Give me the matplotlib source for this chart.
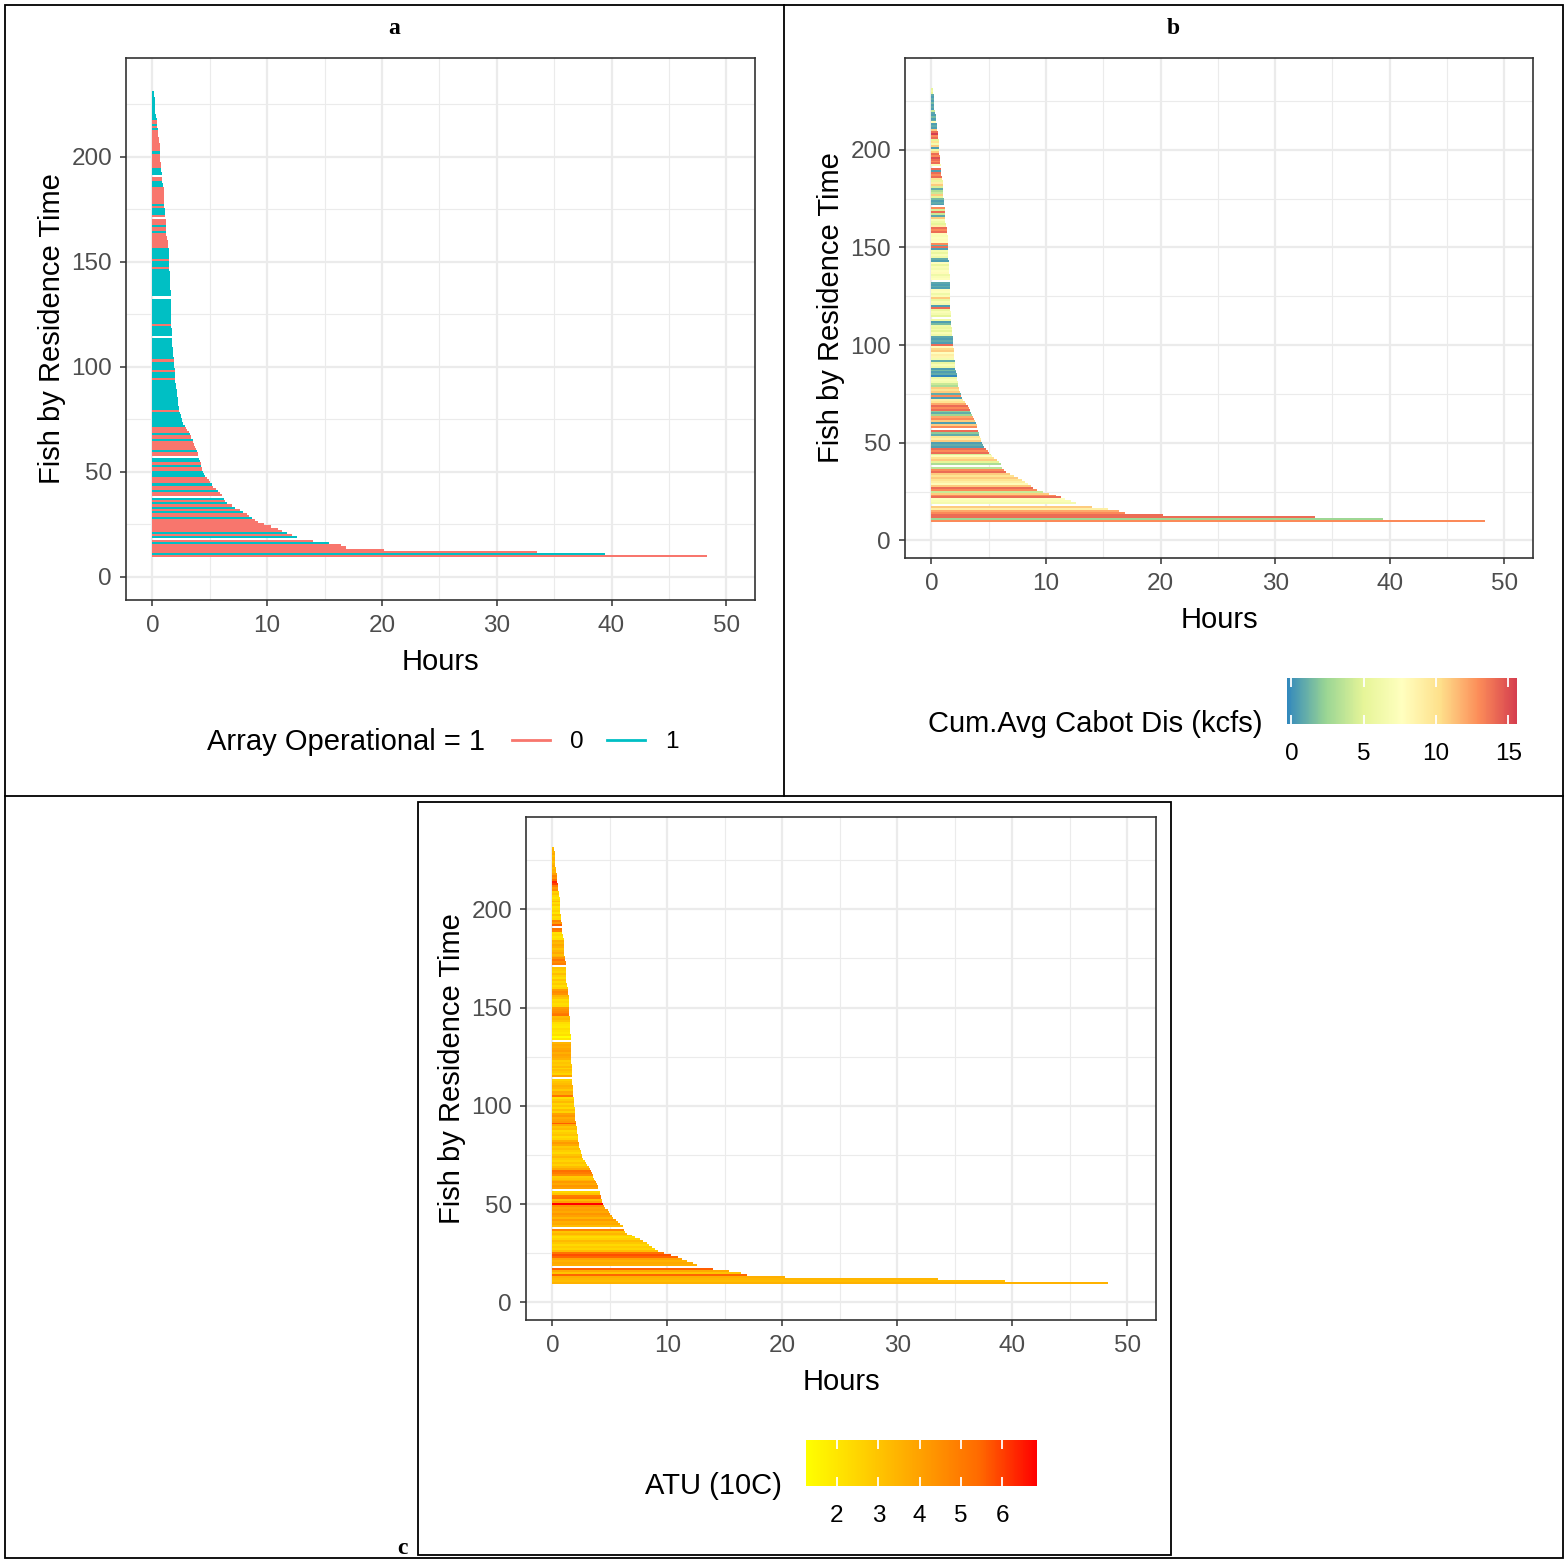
import numpy as np
import matplotlib.pyplot as plt
from matplotlib.colors import LinearSegmentedColormap, Normalize
from matplotlib.cm import ScalarMappable
from matplotlib.lines import Line2D
from matplotlib.patches import Rectangle

plt.rcParams['font.family'] = ['Liberation Sans', 'DejaVu Sans']

nan = np.nan

# residence time (hours) of fish ranked 10, 11, 12, ... (nan = no fish at that rank)
hours = [
    48.3, 39.4, 33.5, 20.2, 16.9, 16.4, 15.4, 14.0, nan, 12.6,
    12.2, 11.7, 11.3, 10.9, 10.3, 9.7, 9.2, 8.9, 8.7, 8.4,
    8.2, 7.9, 7.6, 7.2, 6.9, 6.5, 6.3, 6.2, nan, 6.1,
    5.9, 5.7, 5.5, 5.3, 5.2, 5.0, 4.9, 4.8, 4.6, 4.5,
    4.4, 4.35, 4.3, 4.25, 4.2, 4.15, 4.1, nan, 4.0, 3.95,
    3.9, 3.8, 3.7, 3.6, 3.55, 3.5, 3.4, 3.35, 3.3, 3.2,
    3.0, 2.9, 2.8, 2.7, 2.6, 2.55, 2.5, 2.45, 2.4, 2.35,
    2.3, 2.3, 2.25, 2.25, 2.2, 2.2, 2.15, 2.15, 2.1, 2.1,
    2.06, 2.05, 2.03, 2.0, 2.0, 1.98, 1.97, 1.95, 1.95, 1.93,
    1.9, 1.9, 1.88, 1.86, 1.85, 1.83, 1.8, 1.8, 1.78, 1.76,
    1.75, 1.73, 1.72, 1.7, nan, 1.7, 1.68, 1.68, 1.67, 1.66,
    1.66, 1.66, 1.65, 1.65, 1.65, 1.65, 1.65, 1.65, 1.64, 1.64,
    1.64, 1.64, 1.63, nan, 1.63, 1.62, 1.60, 1.57, 1.55, 1.53,
    1.52, 1.51, 1.5, 1.5, 1.49, 1.49, 1.48, 1.48, 1.48, 1.48,
    1.48, 1.48, 1.48, 1.47, 1.47, 1.47, 1.46, 1.35, 1.34, 1.34,
    1.33, 1.3, 1.25, 1.22, 1.2, 1.2, 1.19, 1.18, 1.17, 1.16,
    1.15, nan, 1.14, 1.14, 1.13, 1.12, 1.05, 1.02, 1.0, 1.0,
    1.0, 0.99, 0.99, 0.98, 0.98, 0.97, 0.96, 0.88, 0.87, 0.86,
    0.85, nan, 0.8, 0.79, 0.78, 0.78, 0.77, 0.72, 0.7, 0.69,
    0.68, 0.67, 0.66, 0.65, 0.64, 0.63, 0.62, 0.61, 0.6, 0.58,
    0.5, 0.48, 0.46, 0.45, 0.43, 0.42, 0.41, 0.4, 0.39, 0.3,
    0.28, 0.27, 0.26, 0.26, 0.25, 0.24, 0.23, 0.22, 0.2, 0.18,
    0.15, 0.12,
]

# array operational (0/1) for the same fish
operational = [
    0, 1, 0, 0, 0, 0, 1, 0, 0, 1,
    0, 1, 0, 0, 0, 0, 0, 0, 1, 0,
    0, 1, 0, 1, 0, 1, 0, 1, 0, 0,
    0, 1, 0, 0, 1, 0, 0, 0, 1, 1,
    1, 0, 0, 1, 0, 1, 1, 0, 0, 0,
    1, 0, 0, 0, 0, 1, 0, 0, 1, 0,
    0, 0, 1, 1, 1, 1, 1, 1, 1, 0,
    1, 1, 1, 1, 1, 1, 1, 1, 1, 1,
    1, 1, 1, 1, 0, 1, 1, 1, 0, 1,
    1, 1, 1, 0, 1, 1, 1, 1, 1, 1,
    1, 1, 1, 1, 1, 1, 1, 1, 1, 1,
    0, 1, 1, 1, 1, 1, 1, 1, 1, 1,
    1, 1, 1, 1, 1, 1, 1, 1, 1, 1,
    1, 1, 1, 1, 1, 1, 1, 0, 1, 1,
    1, 0, 1, 1, 1, 1, 1, 0, 0, 0,
    0, 0, 0, 0, 1, 0, 0, 1, 0, 0,
    0, 0, 0, 1, 1, 1, 0, 1, 0, 0,
    0, 0, 0, 0, 0, 0, 1, 1, 1, 0,
    0, 0, 1, 1, 1, 0, 0, 0, 0, 0,
    0, 0, 1, 0, 0, 0, 0, 0, 0, 0,
    0, 0, 0, 1, 0, 1, 0, 0, 1, 1,
    1, 1, 1, 1, 1, 1, 1, 1, 1, 1,
    1, 1,
]

# cumulative average Cabot discharge (kcfs)
discharge = [
    13, 2.5, 14, 14, 13, 12, 9, 11, 7.5, 6.5,
    7, 7.5, 14, 13, 11, 4, 13, 14, 11, 8,
    9, 10, 11, 10, 11, 14, 13, 3.5, 9, 3,
    5, 11, 10, 8, 4.5, 14, 13, 14, 0.5, 1,
    0.5, 11, 9, 10, 1, 2, 14, 12, 13, 11,
    0.5, 11, 13, 12, 2.5, 1, 2, 14, 13, 14,
    12, 10, 9, 0.5, 13, 1, 11, 10, 11, 3,
    4, 6.5, 7, 6, -0.3, 1, 0.5, 1.5, 0.5, 6,
    7, 5.5, 1, 6.5, 8.5, 9, 7.5, 11, 10.5, 8,
    14, 0.5, 1, 0.5, 0.8, 6, 7, 5, 6.5, 5.5,
    6, 1.5, 0.5, 6, 7.5, 5, 6.5, 7, 5.5, 14,
    0.5, 6.5, 7, 5.5, 11, 7, 6, 7.5, 8, 0.5,
    1, 0.5, 0.8, 6.5, 7.5, 7, 6, 8, 7.5, 6.5,
    7, 5.5, 7.5, 0.5, 1, 6, 7, 5.5, 6.5, 0.5,
    14, 1, 13, 7.5, 8, 7.5, 7, 8, 14, 13,
    14, 9, 5, 6, 7, 11, 0.8, 4, 14, 4.5,
    13, 14, 0.5, 1, 0.5, 1.5, 5, 11, 4, 3,
    1, 4.5, 11, 9, 5.5, 10, 14, 13, 14, 0.5,
    14, 5, 7, 14, 13, 14, 15, 13, 14, 11,
    6, 0.5, 11, 6.5, 10, 5, 14, 13, 15.6, 14,
    11, 0.5, 1, 0.5, 8, 1, 0.5, 1.5, 0.5, 0.8,
    4, 0.5, 1, 0.5, 1.5, 0.5, 1, 0.5, 1, 5,
    6, 5,
]

# accumulated thermal units (10C)
atu = [
    3.5, 3.2, 3.4, 3.6, 5.5, 3.0, 3.8, 5.6, 4.0, 3.6,
    3.8, 3.5, 4.0, 5.5, 5.8, 5.2, 3.2, 2.5, 2.8, 2.4,
    2.9, 3.3, 2.6, 2.3, 2.8, 3.4, 3.0, 4.8, 3.5, 3.2,
    3.8, 3.6, 4.2, 3.4, 4.0, 4.3, 3.8, 4.1, 3.9, 4.4,
    6.84, 4.0, 3.2, 5.2, 5.0, 3.0, 2.5, 3.6, 4.0, 4.3,
    3.8, 4.2, 3.5, 3.0, 2.8, 4.5, 5.0, 5.3, 3.8, 3.2,
    2.6, 3.0, 2.5, 2.8, 3.4, 3.0, 2.4, 2.7, 3.2, 2.9,
    3.8, 4.2, 3.6, 2.6, 2.3, 3.0, 2.7, 2.4, 3.3, 3.0,
    3.8, 5.6, 4.2, 4.0, 3.7, 4.3, 4.0, 2.6, 3.2, 2.4,
    3.0, 2.5, 3.3, 2.8, 2.2, 5.2, 3.6, 3.8, 2.9, 3.4,
    3.6, 3.2, 3.0, 2.6, 3.9, 4.0, 2.5, 2.9, 3.2, 2.6,
    3.3, 2.8, 3.0, 2.7, 3.5, 3.8, 4.0, 3.6, 4.1, 3.9,
    3.6, 3.8, 3.4, 2.4, 2.0, 1.25, 2.2, 1.9, 2.1, 2.3,
    1.9, 2.0, 2.2, 3.0, 3.4, 3.2, 5.2, 5.0, 4.6, 4.4,
    4.2, 2.4, 2.2, 2.5, 2.3, 3.0, 3.4, 4.4, 4.6, 4.2,
    2.6, 2.2, 2.8, 2.4, 3.0, 2.2, 2.6, 3.2, 2.5, 2.8,
    3.0, 4.8, 5.0, 4.6, 5.2, 4.4, 3.6, 3.2, 3.8, 3.4,
    3.0, 3.5, 3.8, 3.3, 3.6, 2.2, 2.0, 2.4, 2.1, 4.8,
    5.2, 4.5, 5.6, 4.2, 4.8, 2.4, 2.2, 3.0, 2.0, 2.6,
    2.3, 2.0, 2.8, 2.2, 3.2, 2.5, 2.1, 2.4, 3.0, 2.6,
    4.6, 4.2, 5.0, 6.0, 6.4, 5.4, 4.4, 4.8, 4.0, 3.4,
    3.6, 3.2, 3.8, 3.4, 3.0, 3.6, 3.5, 3.2, 3.8, 3.4,
    3.6, 3.2,
]

first_rank = 10
op_colors = {0: '#F8766D', 1: '#00BFC4'}
W, H = 1565, 1560

hrs = np.array(hours, dtype=float)
rank = np.arange(first_rank, first_rank + len(hrs))
ok = ~np.isnan(hrs)


def fx(px):
    return px / W


def fy(py):
    return 1 - py / H


fig = plt.figure(figsize=(W / 100, H / 100), dpi=100)


def panel(left, top, right, bottom, colors, ymin):
    ax = fig.add_axes([fx(left), fy(bottom), fx(right - left), (bottom - top) / H])
    ax.barh(rank[ok], hrs[ok], height=1.0, left=0, color=np.asarray(colors)[ok],
            linewidth=0)
    ax.set_xlim(-2.3, 52.5)
    ax.set_ylim(ymin, 247)
    ax.set_xticks(range(0, 51, 10))
    ax.set_xticks(range(5, 51, 10), minor=True)
    ax.set_yticks(range(0, 201, 50))
    ax.set_yticks(range(25, 241, 50), minor=True)
    ax.grid(which='major', color='#EBEBEB', lw=1.6)
    ax.grid(which='minor', color='#EBEBEB', lw=0.8)
    ax.set_axisbelow(True)
    for s in ax.spines.values():
        s.set_color('#333333')
        s.set_linewidth(1.2)
    ax.tick_params(which='major', length=4, width=1.1, color='#333333',
                   labelsize=17.5, labelcolor='#4D4D4D')
    ax.tick_params(axis='y', which='major', pad=6)
    ax.tick_params(axis='x', which='major', pad=7)
    ax.tick_params(which='minor', length=0)
    ax.set_xlabel('Hours', fontsize=21, labelpad=8)
    ax.set_ylabel('Fish by Residence Time', fontsize=21, labelpad=4)
    return ax


def colorbar(cmap, norm, ticks, left, top, right, bottom, title, title_right):
    cax = fig.add_axes([fx(left), fy(bottom), fx(right - left), (bottom - top) / H])
    cb = fig.colorbar(ScalarMappable(norm=norm, cmap=cmap), cax=cax,
                      orientation='horizontal', ticks=ticks)
    cb.outline.set_visible(False)
    cax.tick_params(length=0, labelsize=17.5, pad=14)
    tr = cax.get_xaxis_transform()
    cax.vlines(ticks, 0, 0.2, colors='white', lw=1.3, transform=tr)
    cax.vlines(ticks, 0.8, 1, colors='white', lw=1.3, transform=tr)
    fig.text(fx(title_right), fy(bottom), title, ha='right', va='center', fontsize=21)


# panel a
col_a = [op_colors[v] for v in operational]
panel(126, 58, 755, 600, col_a, -11)
fig.text(fx(207), fy(742), 'Array Operational = 1', ha='left', va='center', fontsize=21)
handles = [Line2D([], [], color=op_colors[k], lw=2) for k in (0, 1)]
fig.legend(handles, ['0', '1'], ncol=2, loc='center left',
           bbox_to_anchor=(fx(512), fy(742)), frameon=False, fontsize=17.5,
           borderpad=0, borderaxespad=0, handlelength=1.55, handletextpad=0.85,
           columnspacing=0.95)

# panel b
spectral = LinearSegmentedColormap.from_list(
    'spec', ['#3288BD', '#99D594', '#E6F598', '#FFFFBF', '#FEE08B', '#FC8D59', '#D53E4F'])
norm_b = Normalize(min(discharge), max(discharge))
panel(905, 58, 1533, 558, spectral(norm_b(np.array(discharge))), -9)
colorbar(spectral, norm_b, [0, 5, 10, 15], 1287, 678, 1517, 724,
         'Cum.Avg Cabot Dis (kcfs)', 1262)

# panel c
yelred = LinearSegmentedColormap.from_list(
    'yr', ['#FFFF00', '#FFD000', '#FFA000', '#FF6A00', '#FF0000'])
norm_c = Normalize(min(atu), max(atu))
panel(526, 817, 1156, 1320, yelred(norm_c(np.array(atu))), -9)
colorbar(yelred, norm_c, [2, 3, 4, 5, 6], 806, 1440, 1037, 1486, 'ATU (10C)', 782)

# frame of the composite figure
frame = dict(transform=fig.transFigure, color='black', lw=1.3)
fig.add_artist(Rectangle((fx(5), fy(1558)), fx(1558), 1553 / H, fill=False,
                         transform=fig.transFigure, ec='black', lw=1.3))
fig.add_artist(Line2D([fx(784), fx(784)], [fy(5), fy(796)], **frame))
fig.add_artist(Line2D([fx(5), fx(1563)], [fy(796), fy(796)], **frame))
fig.add_artist(Rectangle((fx(418), fy(1555)), fx(753), 753 / H, fill=False,
                         transform=fig.transFigure, ec='black', lw=1.3))

serif = dict(family=['Liberation Serif', 'DejaVu Serif'], fontweight='bold', fontsize=17)
fig.text(fx(394), fy(28), 'a', ha='center', va='center', **serif)
fig.text(fx(1173), fy(28), 'b', ha='center', va='center', **serif)
fig.text(fx(402), fy(1548), 'c', ha='center', va='center', **serif)

fig.savefig('out.png', dpi=100, facecolor='white')
